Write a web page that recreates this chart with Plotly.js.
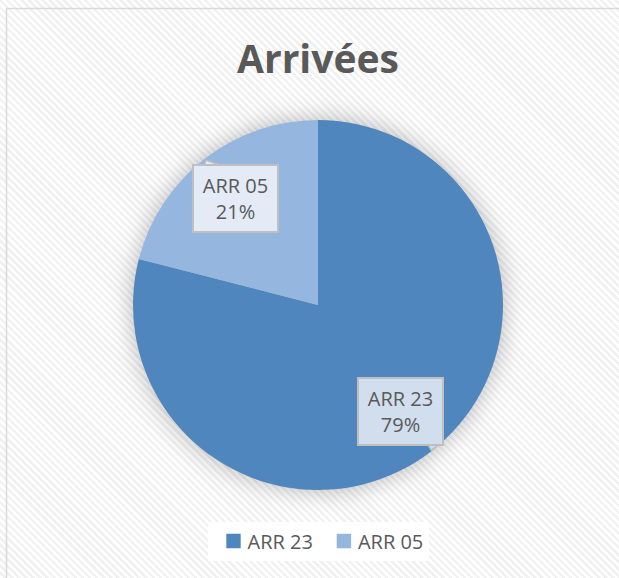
<!DOCTYPE html>
<html>
<head>
<meta charset="utf-8">
<script src="https://cdn.plot.ly/plotly-3.0.1.min.js"></script>
<style>
  html, body { margin: 0; padding: 0; background: #ffffff; }
  #chart {
    width: 619px; height: 578px;
    background: repeating-linear-gradient(45deg, #ffffff 0px, #ffffff 2.5px, #f1f1f1 2.5px, #f1f1f1 5px);
  }
  #chart .pielayer { filter: drop-shadow(0px 0px 12px rgba(0,0,0,0.28)); }
  #chart .legendpoints path.legendpie { transform: translate(26px, 0px) scale(1.2); }
</style>
</head>
<body>
<div id="chart"></div>
<script>
const categories = ['ARR 23', 'ARR 05'];
const values = [79, 21];
const colors = ['#4f86bd', '#95b6de'];
const labelFill = ['rgba(220,230,242,0.92)', 'rgba(232,238,248,0.95)'];
const chartTitle = 'Arrivées';

const W = 619, H = 578;
const cx = 318, cy = 305, R = 185;
const domain = {
  x: [(cx - R) / W, (cx + R) / W],
  y: [(H - cy - R) / H, (H - cy + R) / H]
};

// data label annotations placed along each slice's mid angle
const total = values.reduce((a, b) => a + b, 0);
const annotations = [];
const shapes = [];
const boxW = 87, boxH = 69;
let start = 0;
values.forEach((v, i) => {
  const mid = (start + v / 2) / total * 2 * Math.PI; // clockwise from 12 o'clock
  start += v;
  const f = 0.73;
  const px = cx + f * R * Math.sin(mid);
  const py = cy - f * R * Math.cos(mid);
  annotations.push({
    xref: 'paper', yref: 'paper',
    x: px / W, y: 1 - py / H,
    xanchor: 'center', yanchor: 'middle',
    showarrow: false,
    text: categories[i] + '<br>' + Math.round(v / total * 100) + '%',
    font: { family: 'Open Sans, sans-serif', size: 20, color: '#595959' },
    bgcolor: labelFill[i],
    bordercolor: '#bfbfbf', borderwidth: 2, borderpad: 0,
    width: boxW - 4, height: boxH - 4
  });
  // small callout pointer toward the slice edge
  const up = Math.cos(mid) > 0;
  const ex = up ? px - boxW / 2 : px + boxW / 2;
  const ey = up ? py - boxH / 2 : py + boxH / 2;
  const pts = up
    ? [[ex + 13, ey + 1], [ex + 14, ey - 3.5], [ex + 28, ey + 1]]
    : [[ex - 16, ey - 1], [ex - 13, ey + 4], [ex - 6, ey - 1]];
  shapes.push({
    type: 'path', xref: 'paper', yref: 'paper',
    path: 'M' + pts.map(p => (p[0] / W) + ',' + (1 - p[1] / H)).join('L') ,
    fillcolor: labelFill[i], line: { color: '#bfbfbf', width: 1.5 }
  });
});

const trace = {
  type: 'pie',
  labels: categories,
  values: values,
  sort: false,
  direction: 'clockwise',
  rotation: 0,
  marker: { colors: colors, line: { width: 0 } },
  textinfo: 'none',
  hoverinfo: 'label+percent',
  domain: domain
};

shapes.push({
  type: 'rect', xref: 'paper', yref: 'paper',
  x0: 6.5 / W, x1: 1.2, y0: -0.2, y1: 1 - 8.5 / H,
  line: { color: '#d9d9d9', width: 1.5 }, fillcolor: 'rgba(0,0,0,0)'
});

const layout = {
  width: W, height: H,
  margin: { l: 0, r: 0, t: 0, b: 0 },
  paper_bgcolor: 'rgba(0,0,0,0)',
  plot_bgcolor: 'rgba(0,0,0,0)',
  title: {
    text: '<b>' + chartTitle + '</b>',
    font: { family: 'Open Sans, sans-serif', size: 39, color: '#595959' },
    x: 318 / W, xanchor: 'center',
    y: 1 - 59 / H, yanchor: 'middle'
  },
  showlegend: true,
  legend: {
    orientation: 'h',
    x: 318 / W, xanchor: 'center',
    y: 37 / H, yanchor: 'middle',
    bgcolor: '#ffffff',
    borderwidth: 0,
    font: { family: 'Open Sans, sans-serif', size: 20, color: '#595959' },
    itemsizing: 'constant'
  },
  annotations: annotations,
  shapes: shapes
};

Plotly.newPlot('chart', [trace], layout, { displayModeBar: false, staticPlot: true });
</script>
</body>
</html>
